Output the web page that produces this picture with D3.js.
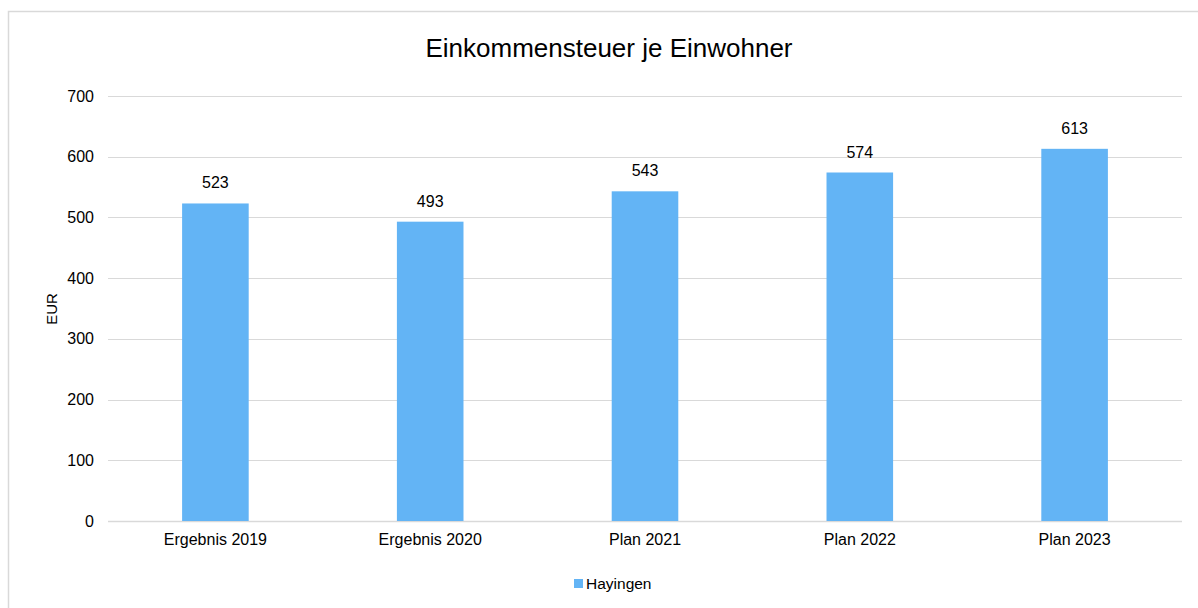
<!DOCTYPE html>
<html>
<head>
<meta charset="utf-8">
<script src="https://cdn.jsdelivr.net/npm/d3@7"></script>
<style>
  body { margin: 0; background: #fff; }
  svg text { font-family: "Liberation Sans", Arial, sans-serif; fill: #000; }
</style>
</head>
<body>
<div id="chart"></div>
<script>
const categories = ["Ergebnis 2019", "Ergebnis 2020", "Plan 2021", "Plan 2022", "Plan 2023"];
const values = [523, 493, 543, 574, 613];
const yTicks = [0, 100, 200, 300, 400, 500, 600, 700];
const seriesName = "Hayingen";

const width = 1198, height = 608;
const margin = { left: 108, right: 16, top: 96, bottom: 87 };

const svg = d3.select("#chart")
    .append("svg")
    .attr("width", width)
    .attr("height", height);

// chart frame (only left/top edges fall inside the view)
svg.append("rect")
    .attr("x", 8.5)
    .attr("y", 11.5)
    .attr("width", 1220)
    .attr("height", 640)
    .attr("fill", "none")
    .attr("stroke", "#d9d9d9")
    .attr("stroke-width", 1.5);

const x = d3.scaleBand()
    .domain(categories)
    .range([margin.left, width - margin.right])
    .paddingInner(0.69)
    .paddingOuter(0.345);

const y = d3.scaleLinear()
    .domain([0, 700])
    .range([height - margin.bottom, margin.top]);

// gridlines
svg.append("g")
    .selectAll("line")
    .data(yTicks)
    .enter().append("line")
    .attr("x1", margin.left)
    .attr("x2", width - margin.right)
    .attr("y1", d => Math.round(y(d)) + 0.5)
    .attr("y2", d => Math.round(y(d)) + 0.5)
    .attr("stroke", "#d9d9d9")
    .attr("stroke-width", d => d === 0 ? 1.5 : 1);

// y axis labels
const yAxis = d3.axisLeft(y).tickValues(yTicks).tickSize(0).tickPadding(14);
svg.append("g")
    .attr("transform", `translate(${margin.left},0)`)
    .call(yAxis)
    .call(g => g.select(".domain").remove())
    .selectAll("text")
    .style("font-size", "16px")
    .attr("fill", "#000");

// bars
svg.append("g")
    .selectAll("rect")
    .data(values)
    .enter().append("rect")
    .attr("x", (d, i) => x(categories[i]))
    .attr("y", d => y(d))
    .attr("width", x.bandwidth())
    .attr("height", d => y(0) - y(d))
    .attr("fill", "#63b4f5");

// value labels
svg.append("g")
    .selectAll("text")
    .data(values)
    .enter().append("text")
    .attr("x", (d, i) => x(categories[i]) + x.bandwidth() / 2)
    .attr("y", d => y(d) - 15)
    .attr("text-anchor", "middle")
    .style("font-size", "16px")
    .text(d => d);

// x axis labels
const xAxis = d3.axisBottom(x).tickSize(0).tickPadding(13);
svg.append("g")
    .attr("transform", `translate(0,${y(0)})`)
    .call(xAxis)
    .call(g => g.select(".domain").remove())
    .selectAll("text")
    .style("font-size", "16px")
    .attr("fill", "#000");

// y axis title
svg.append("text")
    .attr("transform", "translate(57,309) rotate(-90)")
    .attr("text-anchor", "middle")
    .style("font-size", "15px")
    .text("EUR");

// title
svg.append("text")
    .attr("x", 609)
    .attr("y", 57)
    .attr("text-anchor", "middle")
    .style("font-size", "26px")
    .text("Einkommensteuer je Einwohner");

// legend
const legend = svg.append("g").attr("transform", "translate(574,579)");
legend.append("rect")
    .attr("width", 9)
    .attr("height", 9)
    .attr("fill", "#63b4f5");
legend.append("text")
    .attr("x", 12)
    .attr("y", 10)
    .style("font-size", "15.5px")
    .text(seriesName);
</script>
</body>
</html>
